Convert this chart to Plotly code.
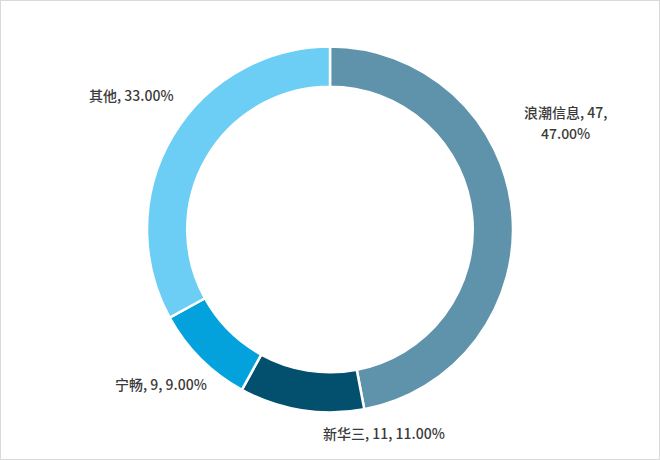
import plotly.graph_objects as go

labels = ["浪潮信息", "新华三", "宁畅", "其他"]
values = [47, 11, 9, 33]
show_value = [True, True, True, False]
colors = ["#5F92AB", "#03506E", "#04A2DC", "#6CCEF5"]

# label anchor positions in pixels (layout, not data); list of line centres per label
label_pos = [[(565, 112), (565, 133)], [(384, 433)], [(161, 384)], [(131, 95)]]

total = sum(values)
lines = []
for lab, v, sv in zip(labels, values, show_value):
    pct = f"{v / total * 100:.2f}%"
    if sv:
        if lab == "浪潮信息":
            lines.append([f"{lab}, {v},", pct])
        else:
            lines.append([f"{lab}, {v}, {pct}"])
    else:
        lines.append([f"{lab}, {pct}"])

W, H = 660, 460
fig = go.Figure(go.Pie(
    labels=labels, values=values,
    textinfo="none",
    sort=False, direction="clockwise", rotation=0,
    hole=0.78,
    marker=dict(colors=colors, line=dict(color="white", width=2.5)),
    domain=dict(x=[(330 - 183) / W, (330 + 183) / W],
                y=[(H - 229.5 - 183) / H, (H - 229.5 + 183) / H]),
    showlegend=False,
    hoverinfo="label+value+percent",
))
annotations = []
for ls, ps in zip(lines, label_pos):
    for t, (px, py) in zip(ls, ps):
        annotations.append(dict(
            x=px / W, y=1 - py / H, xref="paper", yref="paper", text=t,
            showarrow=False, xanchor="center", yanchor="middle",
            font=dict(family="Noto Sans CJK SC", size=14, color="#3A3A3A", weight=500),
            align="center"))
fig.update_layout(
    width=W, height=H,
    margin=dict(l=0, r=0, t=0, b=0),
    paper_bgcolor="white", plot_bgcolor="white",
    annotations=annotations,
    shapes=[dict(type="rect", xref="paper", yref="paper", x0=0, y0=0, x1=1, y1=1,
                 line=dict(color="#D9D9D9", width=2))],
)
fig.write_html("out.html", config={"displayModeBar": False},
               post_script="document.body.style.margin='0';document.body.style.overflow='hidden';")
